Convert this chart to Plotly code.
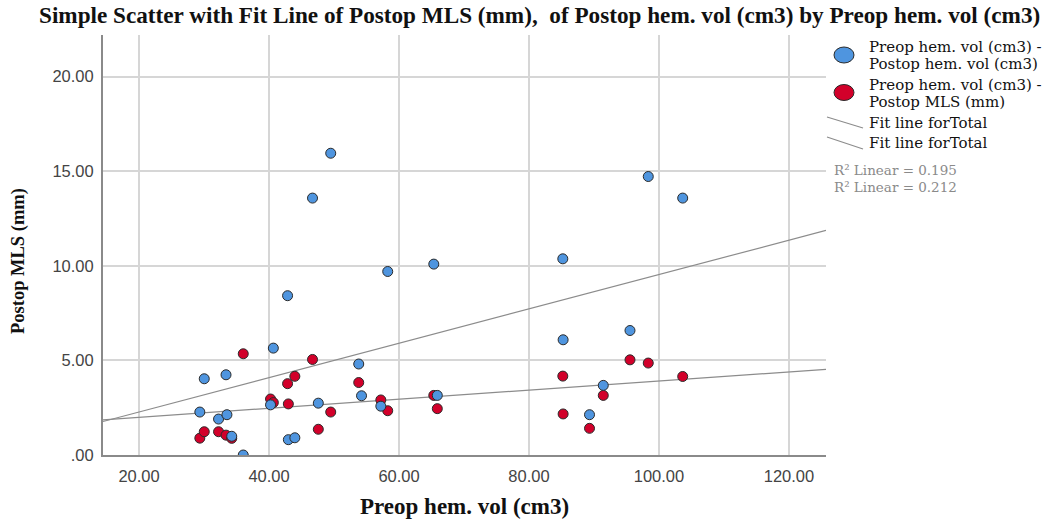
import numpy as np
import plotly.graph_objects as go

# ---- data ----
preop_vol = [29.35, 30.03, 32.23, 33.38, 33.52, 34.26, 36.03, 40.23, 40.66, 42.85,
             42.97, 43.97, 46.69, 47.58, 49.49, 53.80, 54.23, 57.20, 58.26, 65.35,
             65.89, 85.20, 85.25, 89.31, 91.43, 95.54, 98.35, 103.65]
postop_vol = [2.27, 4.03, 1.90, 4.24, 2.13, 0.99, 0.00, 2.65, 5.65, 8.42,
              0.81, 0.91, 13.58, 2.74, 15.95, 4.81, 3.13, 2.58, 9.70, 10.09,
              3.15, 10.37, 6.09, 2.13, 3.68, 6.58, 14.72, 13.58]
postop_mls = [0.89, 1.23, 1.23, 1.05, None, 0.88, 5.35, 2.96, 2.77, 3.77,
              2.70, 4.16, 5.05, 1.36, 2.27, 3.83, None, 2.91, 2.34, 3.15,
              2.45, 4.17, 2.17, 1.41, 3.15, 5.03, 4.86, 4.15]

x_ticks = [20, 40, 60, 80, 100, 120]
x_tick_text = ["20.00", "40.00", "60.00", "80.00", "100.00", "120.00"]
y_ticks = [0, 5, 10, 15, 20]
y_tick_text = [".00", "5.00", "10.00", "15.00", "20.00"]
r2_labels = ["R\u00b2 Linear = 0.195", "R\u00b2 Linear = 0.212"]

X_RANGE = [14.45, 125.7]
Y_RANGE = [0, 22.2]

BLUE = "#4f95df"
RED = "#d2002a"
OUTLINE = "#2b2b2b"
FIT = "#8c8c8c"

# plot area in page pixels (body margin removed below)
L, R, T, B = 103, 826, 35, 455
W, H = 1059, 520
def px(xp):
    return (xp - L) / (R - L)
def py(yp):
    return (B - yp) / (B - T)

fig = go.Figure()

# fit lines (least squares) drawn across full axis range
xs = np.array(preop_vol, dtype=float)
xline = np.array(X_RANGE)
for yvals in (postop_vol, postop_mls):
    yv = np.array([np.nan if v is None else v for v in yvals], dtype=float)
    m = ~np.isnan(yv)
    k, b = np.polyfit(xs[m], yv[m], 1)
    fig.add_trace(go.Scatter(x=xline, y=k * xline + b, mode="lines",
                             line=dict(color=FIT, width=1.2),
                             hoverinfo="skip", showlegend=False))

fig.add_trace(go.Scatter(x=preop_vol, y=postop_mls, mode="markers",
                         marker=dict(color=RED, size=10, line=dict(color=OUTLINE, width=1)),
                         showlegend=False, cliponaxis=True))
fig.add_trace(go.Scatter(x=preop_vol, y=postop_vol, mode="markers",
                         marker=dict(color=BLUE, size=10, line=dict(color=OUTLINE, width=1)),
                         showlegend=False, cliponaxis=True))

axis_common = dict(showline=True, linecolor="#8a8a8a", linewidth=2,
                   showgrid=True, gridcolor="#d6d6d6", gridwidth=2,
                   zeroline=False, ticks="",
                   tickfont=dict(family="Liberation Sans, Arial, sans-serif", size=16.5, color="#444444"))

fig.update_xaxes(range=X_RANGE, tickvals=x_ticks, ticktext=x_tick_text,
                 ticklabelstandoff=5, **axis_common)
fig.update_yaxes(range=Y_RANGE, tickvals=y_ticks, ticktext=y_tick_text,
                 ticklabelstandoff=4, **axis_common)

SERIF = "Liberation Serif, Times New Roman, serif"
ann = []
# title
ann.append(dict(text="<b>Simple Scatter with Fit Line of Postop MLS (mm),  of Postop hem. vol (cm3) by Preop hem. vol (cm3)</b>",
                xref="paper", yref="paper", x=px(539), y=py(0.5), xanchor="center", yanchor="top",
                showarrow=False, borderpad=0, font=dict(family=SERIF, size=23.2, color="#111111")))
# axis titles
ann.append(dict(text="<b>Preop hem. vol (cm3)</b>", xref="paper", yref="paper",
                x=px(464), y=py(519.5), xanchor="center", yanchor="bottom", showarrow=False,
                borderpad=0, font=dict(family=SERIF, size=23, color="#111111")))
ann.append(dict(text="<b>Postop MLS (mm)</b>", xref="paper", yref="paper", textangle=-90,
                x=px(18), y=py(261), xanchor="center", yanchor="middle", showarrow=False,
                font=dict(family=SERIF, size=18.5, color="#111111")))

leg_font = dict(family="DejaVu Serif, serif", size=15, color="#111111")
legend_lines = [
    ("Preop hem. vol (cm3) -", 47),
    ("Postop hem. vol (cm3)", 64),
    ("Preop hem. vol (cm3) -", 85),
    ("Postop MLS (mm)", 102),
    ("Fit line forTotal", 123),
    ("Fit line forTotal", 143),
]
for t, yy in legend_lines:
    ann.append(dict(text=t, xref="paper", yref="paper", x=px(867), y=py(yy),
                    xanchor="left", yanchor="middle", showarrow=False, font=leg_font))
for i, t in enumerate(r2_labels):
    ann.append(dict(text=t, xref="paper", yref="paper", x=px(832), y=py(170 + 17 * i),
                    xanchor="left", yanchor="middle", showarrow=False,
                    font=dict(family="DejaVu Serif, serif", size=13.5, color="#8a8a8a")))

shapes = [
    dict(type="circle", xref="paper", yref="paper", x0=px(834), x1=px(854), y0=py(47), y1=py(63),
         fillcolor=BLUE, line=dict(color=OUTLINE, width=1)),
    dict(type="circle", xref="paper", yref="paper", x0=px(834), x1=px(854), y0=py(84.5), y1=py(100.5),
         fillcolor=RED, line=dict(color=OUTLINE, width=1)),
    dict(type="line", xref="paper", yref="paper", x0=px(827), y0=py(117), x1=px(863), y1=py(128),
         line=dict(color=FIT, width=1.2)),
    dict(type="line", xref="paper", yref="paper", x0=px(827), y0=py(137), x1=px(863), y1=py(149),
         line=dict(color=FIT, width=1.2)),
]

fig.update_layout(width=W, height=H,
                  margin=dict(l=L, r=W - R, t=T, b=H - B),
                  plot_bgcolor="white", paper_bgcolor="white",
                  annotations=ann, shapes=shapes, showlegend=False)

fig.write_html("out.html", config={"displayModeBar": False},
               post_script="document.body.style.margin='0';document.body.style.overflow='hidden';")
